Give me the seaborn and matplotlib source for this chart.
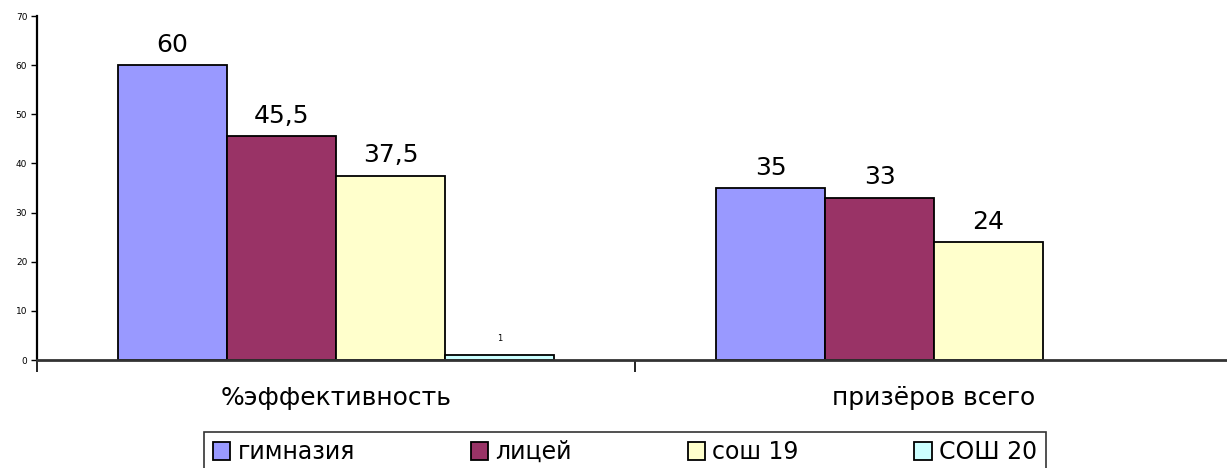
import pandas as pd
import numpy as np
import matplotlib
matplotlib.use('Agg')
import matplotlib.pyplot as plt
import seaborn as sns

# Dane
categories = ['%эффективность', 'призёров всего']
schools = ['гимназия', 'лицей', 'сош 19', 'СОШ 20']
gimnazia = [60, 35]
licei = [45.5, 33]
sosh19 = [37.5, 24]
sosh20 = [1, np.nan]
colors = ['#9999FF', '#993366', '#FFFFCC', '#CCFFFF']

rows = []
for school, vals in zip(schools, [gimnazia, licei, sosh19, sosh20]):
    for cat, v in zip(categories, vals):
        rows.append({'cat': cat, 'school': school, 'value': v})
df = pd.DataFrame(rows)

sns.set_style('white')
plt.rcParams['font.family'] = ['DejaVu Sans']
plt.rcParams['text.color'] = 'black'
plt.rcParams['xtick.color'] = 'black'
plt.rcParams['ytick.color'] = 'black'

fig = plt.figure(figsize=(12.27, 4.68), dpi=100)
ax = fig.add_axes([37 / 1227, 1 - 360 / 468, 1196 / 1227, (360 - 16) / 468])

sns.barplot(data=df, x='cat', y='value', hue='school', hue_order=schools,
            palette=colors, width=0.729, edgecolor='black', linewidth=1.3,
            saturation=1, ax=ax, legend=True)

# podpisy nad słupkami
for i, cont in enumerate(ax.containers):
    labels = []
    for bar in cont:
        h = bar.get_height()
        if np.isnan(h):
            labels.append('')
        else:
            labels.append(('%g' % h).replace('.', ','))
    if i == 3:
        ax.bar_label(cont, labels=labels, padding=9, fontsize=6, color='black')
    else:
        ax.bar_label(cont, labels=labels, padding=6, fontsize=18, color='black')

ax.set_ylim(0, 70)
ax.set_xlim(-0.5, 1.5)
ax.set_yticks(range(0, 71, 10))
ax.tick_params(axis='y', labelsize=6.5, length=4, width=1, direction='out', left=True, pad=3)
ax.set_xticks([0, 1])
ax.set_xticklabels(categories, fontsize=18)
ax.tick_params(axis='x', length=0, pad=19)
ax.set_xticks([-0.5, 0.5, 1.5], minor=True)
ax.tick_params(axis='x', which='minor', length=8.5, width=1.2, direction='out', bottom=True)
ax.set_xlabel('')
ax.set_ylabel('')

for s in ['top', 'right']:
    ax.spines[s].set_visible(False)
ax.spines['left'].set_color('black')
ax.spines['left'].set_linewidth(1.6)
ax.spines['bottom'].set_color('#333333')
ax.spines['bottom'].set_linewidth(2)

handles, lbls = ax.get_legend_handles_labels()
ax.get_legend().remove()
leg = fig.legend(handles, lbls, loc='upper center', bbox_to_anchor=(625 / 1227, 1 - 432 / 468),
                 ncol=4, fontsize=17, frameon=True, fancybox=False, edgecolor='black',
                 handlelength=0.75, handleheight=0.75, columnspacing=4.9, handletextpad=0.3,
                 borderpad=0.35, borderaxespad=0)
leg.get_frame().set_linewidth(1.2)

plt.savefig('out.png', dpi=100)
